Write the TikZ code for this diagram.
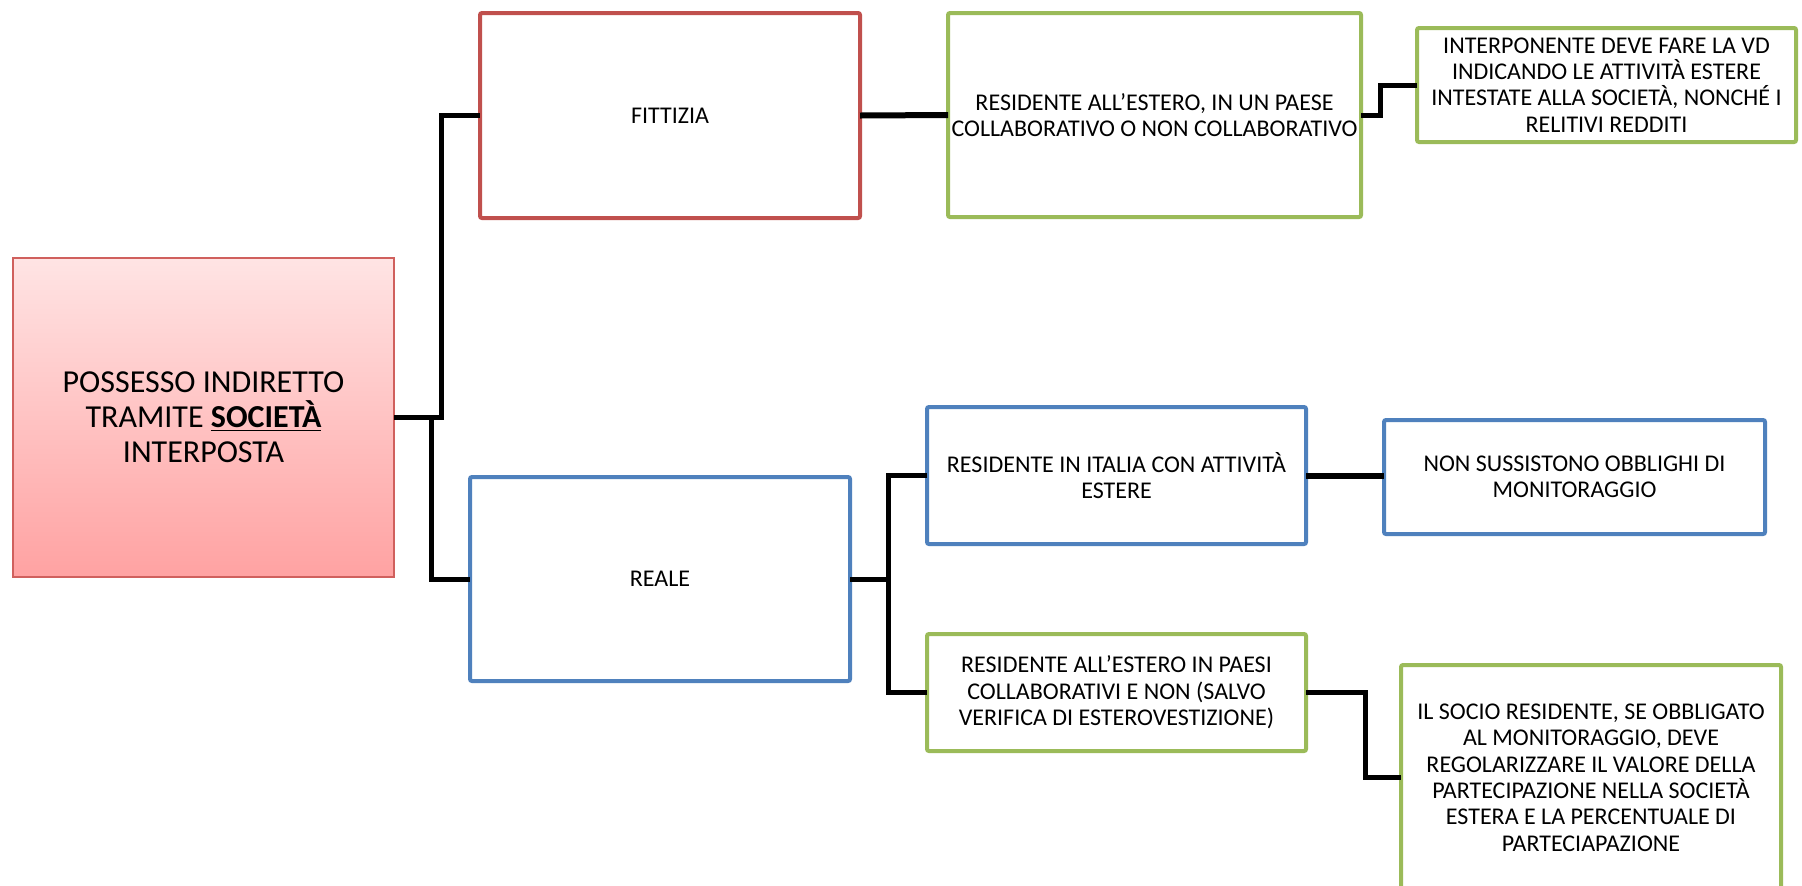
\documentclass[tikz,border=0pt]{standalone}
\usepackage{fontspec}
\setmainfont{Carlito}
\definecolor{boxred}{HTML}{C0504D}
\definecolor{boxgreen}{HTML}{9BBB59}
\definecolor{boxblue}{HTML}{4F81BD}
\definecolor{rootedge}{HTML}{D0605D}
\definecolor{roottop}{HTML}{FFE4E4}
\definecolor{rootbottom}{HTML}{FFA2A2}
\begin{document}
\begin{tikzpicture}[x=0.5pt,y=-0.5pt,
  card/.style={rectangle, draw, line width=2pt, rounded corners=1pt, fill=white,
    inner sep=0pt, outer sep=0pt, align=center,
    font=\fontsize{12}{13.2}\selectfont},
  redcard/.style={card, draw=boxred},
  greencard/.style={card, draw=boxgreen},
  bluecard/.style={card, draw=boxblue},
  rootcard/.style={rectangle, draw=rootedge, line width=1pt, inner sep=0pt, outer sep=0pt,
    top color=roottop, bottom color=rootbottom, align=center,
    font=\fontsize{16}{17.6}\selectfont},
  link/.style={draw=black, line width=2.5pt},
  heavylink/.style={draw=black, line width=3pt}]
\clip (0,0) rectangle (1802,885);
\fill[white] (0,0) rectangle (1802,885);

% boxes
\node[rootcard, minimum width=190.5pt, minimum height=159.5pt] (root) at (203.5,417.5)
  {POSSESSO INDIRETTO\\TRAMITE \underline{\textbf{SOCIETÀ}}\\INTERPOSTA};
\node[redcard, minimum width=190pt, minimum height=102.5pt] (fit) at (670,115.5) {FITTIZIA};
\node[greencard, minimum width=206.5pt, minimum height=102pt] (estero) at (1154.5,115)
  {RESIDENTE ALL’ESTERO, IN UN PAESE\\COLLABORATIVO O NON COLLABORATIVO};
\node[greencard, minimum width=189.5pt, minimum height=57pt] (vd) at (1606.5,85)
  {INTERPONENTE DEVE FARE LA VD\\INDICANDO LE ATTIVITÀ ESTERE\\INTESTATE ALLA SOCIETÀ, NONCHÉ I\\RELITIVI REDDITI};
\node[bluecard, minimum width=190pt, minimum height=102pt] (reale) at (660,579) {REALE};
\node[bluecard, minimum width=189.5pt, minimum height=68.5pt] (italia) at (1116.5,475.5)
  {RESIDENTE IN ITALIA CON ATTIVITÀ\\ESTERE};
\node[bluecard, minimum width=190.5pt, minimum height=57pt] (nonobb) at (1574.5,477)
  {NON SUSSISTONO OBBLIGHI DI\\MONITORAGGIO};
\node[greencard, minimum width=189.5pt, minimum height=58.5pt] (paesi) at (1116.5,692.5)
  {RESIDENTE ALL’ESTERO IN PAESI\\COLLABORATIVI E NON (SALVO\\VERIFICA DI ESTEROVESTIZIONE)};
\node[greencard, minimum width=190pt, minimum height=112.5pt] (socio) at (1591,777.5)
  {IL SOCIO RESIDENTE, SE OBBLIGATO\\AL MONITORAGGIO, DEVE\\REGOLARIZZARE IL VALORE DELLA\\PARTECIPAZIONE NELLA SOCIETÀ\\ESTERA E LA PERCENTUALE DI\\PARTECIAPAZIONE};

% bend positions of the elbow connectors
\coordinate (bendA) at (441,0);
\coordinate (bendB) at (431,0);
\coordinate (bendC) at (1380,0);
\coordinate (bendD) at (888,0);
\coordinate (bendE) at (1365,0);

% connectors
\draw[link] (root.east) -- (root.east -| bendA) |- (fit.west);
\draw[link] (root.east -| bendB) |- (reale.west);
\draw[heavylink] (fit.east) -- (estero.west);
\draw[link] (estero.east) -- (estero.east -| bendC) |- (vd.west);
\draw[link] (reale.east) -- (reale.east -| bendD);
\draw[link] (italia.west) -| (bendD |- paesi.west) -- (paesi.west);
\draw[heavylink] (italia.east) -- (italia.east -| nonobb.west);
\draw[link] (paesi.east) -- (paesi.east -| bendE) |- (socio.west);
\end{tikzpicture}
\end{document}
